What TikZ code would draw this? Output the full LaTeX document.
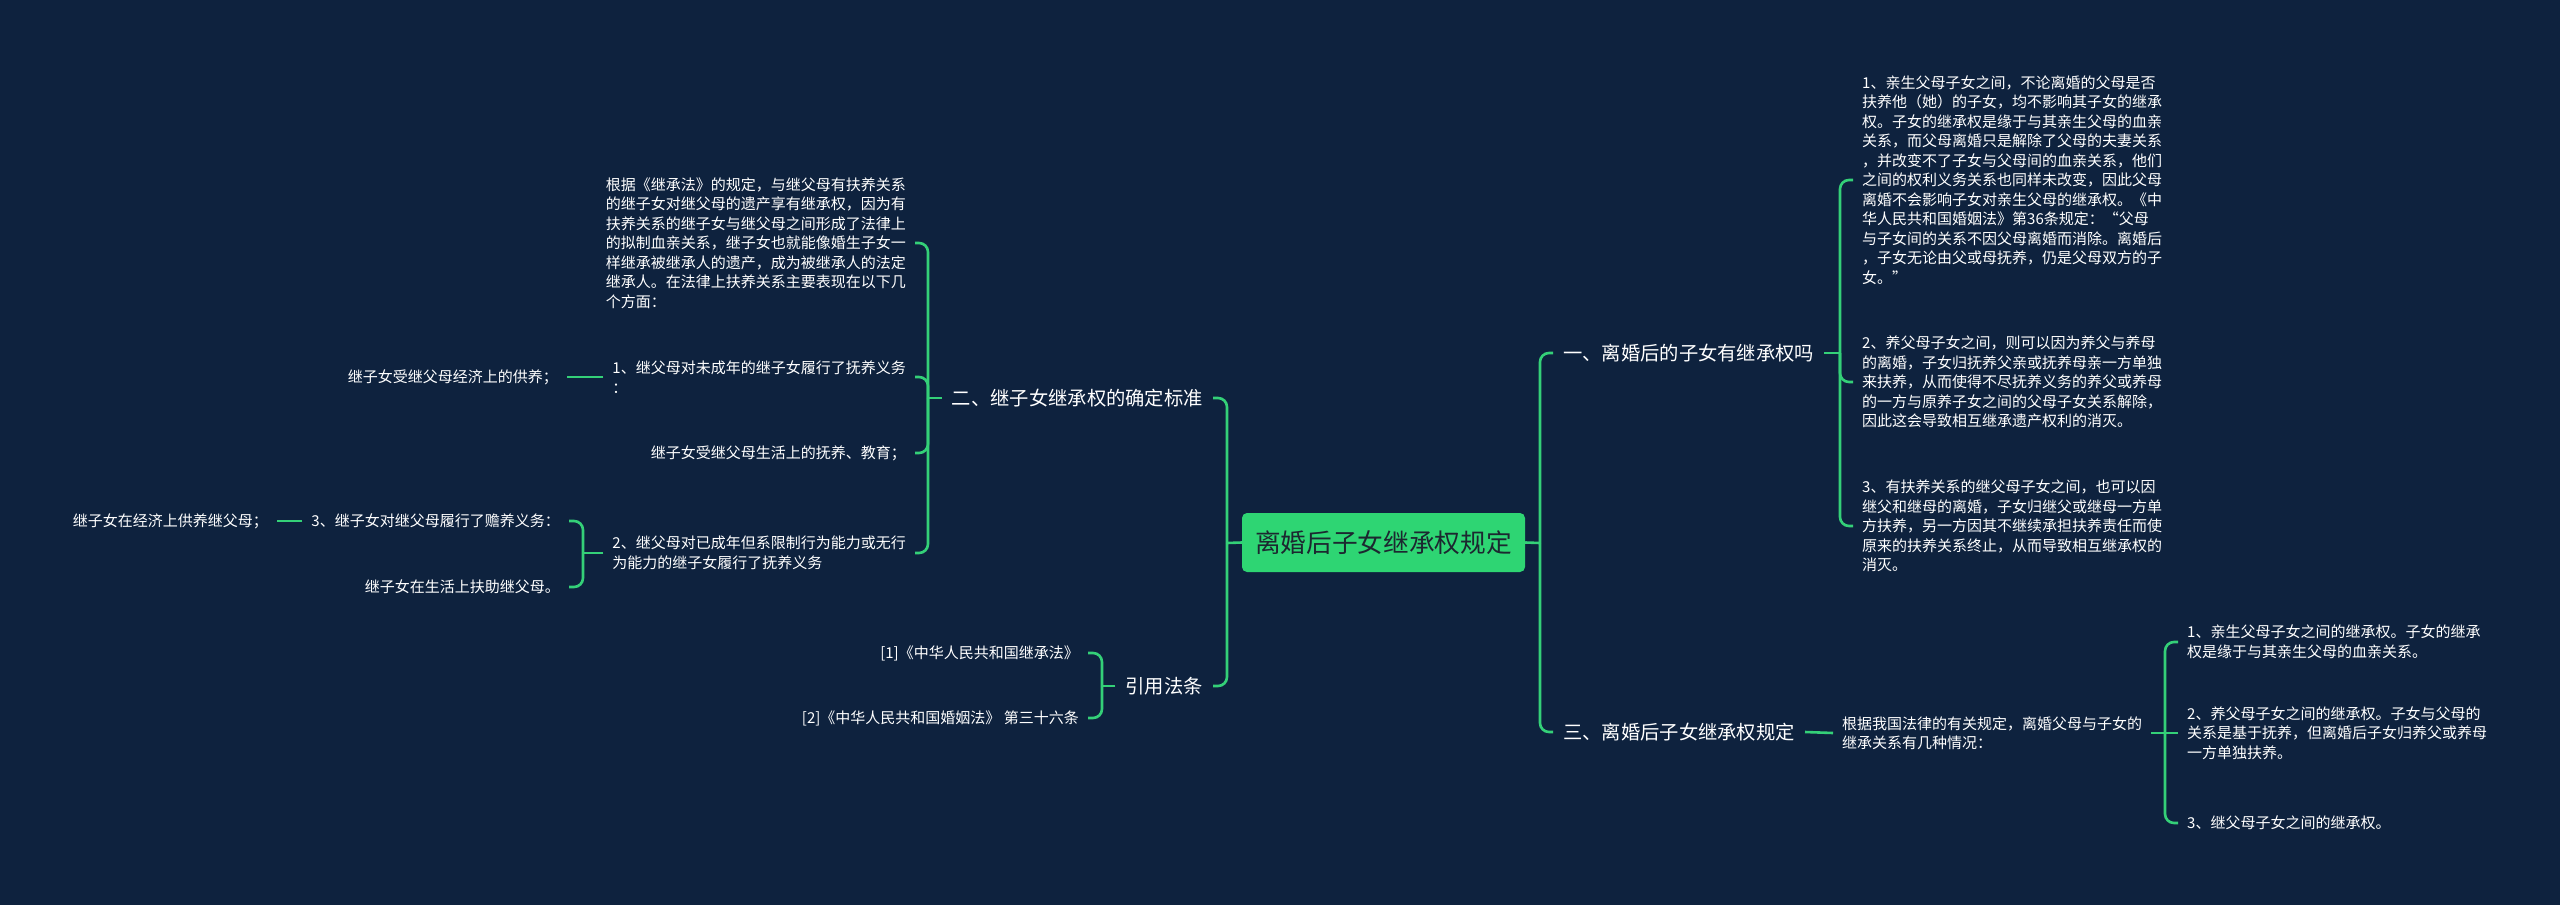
\documentclass[tikz,border=0pt]{standalone}
\usepackage{fontspec}
\setmainfont{Noto Sans CJK SC}
\definecolor{bg}{RGB}{14,34,62}
\definecolor{lnk}{RGB}{52,208,120}
\definecolor{rootfill}{RGB}{46,213,115}
\definecolor{roottext}{RGB}{28,40,48}
\tikzset{
  leaf/.style={text=white, font=\fontsize{15}{19.5}\selectfont, align=left, inner xsep=9pt, inner ysep=2pt},
  lone/.style={text=white, font=\fontsize{19.3}{24}\selectfont, inner xsep=10pt, inner ysep=3pt},
  rootbox/.style={fill=rootfill, rounded corners=5pt, text=roottext, font=\fontsize{25.7}{30}\selectfont, minimum width=283pt, minimum height=59pt, inner sep=0pt},
  link/.style={draw=lnk, line width=2.6pt, rounded corners=9pt},
}
\begin{document}
\begin{tikzpicture}[x=1pt,y=-1pt]
\fill[bg] (0,0) rectangle (2560,905);
\useasboundingbox (0,0) rectangle (2560,905);

% root
\node[rootbox] (root) at (1383.5,542.5) {离婚后子女继承权规定};

% right side
\coordinate (jR) at (1540,543);
\node[lone, anchor=west] (b1) at (1553,353) {一、离婚后的子女有继承权吗};
\node[lone, anchor=west] (b3) at (1553,732) {三、离婚后子女继承权规定};
\draw[link] (root.east) -- (jR);
\draw[link] (jR) |- (b1.west);
\draw[link] (jR) |- (b3.west);

\coordinate (j1) at (1840,353);
\node[leaf, anchor=west] (c11) at (1853,180) {1、亲生父母子女之间，不论离婚的父母是否\\扶养他（她）的子女，均不影响其子女的继承\\权。子女的继承权是缘于与其亲生父母的血亲\\关系，而父母离婚只是解除了父母的夫妻关系\\，并改变不了子女与父母间的血亲关系，他们\\之间的权利义务关系也同样未改变，因此父母\\离婚不会影响子女对亲生父母的继承权。《中\\华人民共和国婚姻法》第36条规定：“父母\\与子女间的关系不因父母离婚而消除。离婚后\\，子女无论由父或母抚养，仍是父母双方的子\\女。”};
\node[leaf, anchor=west] (c12) at (1853,382) {2、养父母子女之间，则可以因为养父与养母\\的离婚，子女归抚养父亲或抚养母亲一方单独\\来扶养，从而使得不尽抚养义务的养父或养母\\的一方与原养子女之间的父母子女关系解除，\\因此这会导致相互继承遗产权利的消灭。};
\node[leaf, anchor=west] (c13) at (1853,526) {3、有扶养关系的继父母子女之间，也可以因\\继父和继母的离婚，子女归继父或继母一方单\\方扶养，另一方因其不继续承担扶养责任而使\\原来的扶养关系终止，从而导致相互继承权的\\消灭。};
\draw[link] (b1.east) -- (j1);
\draw[link] (j1) |- (c11.west);
\draw[link] (j1) |- (c12.west);
\draw[link] (j1) |- (c13.west);

\node[leaf, anchor=west] (c3m) at (1833,733) {根据我国法律的有关规定，离婚父母与子女的\\继承关系有几种情况：};
\draw[link] (b3.east) -- (c3m.west);
\coordinate (j3) at (2165,733);
\node[leaf, anchor=west] (c31) at (2178,642) {1、亲生父母子女之间的继承权。子女的继承\\权是缘于与其亲生父母的血亲关系。};
\node[leaf, anchor=west] (c32) at (2178,733) {2、养父母子女之间的继承权。子女与父母的\\关系是基于抚养，但离婚后子女归养父或养母\\一方单独扶养。};
\node[leaf, anchor=west] (c33) at (2178,823) {3、继父母子女之间的继承权。};
\draw[link] (c3m.east) -- (j3);
\draw[link] (j3) |- (c31.west);
\draw[link] (j3) -- (c32.west);
\draw[link] (j3) |- (c33.west);

% left side
\coordinate (jL) at (1227,543);
\node[lone, anchor=east] (b2) at (1213,398) {二、继子女继承权的确定标准};
\node[lone, anchor=east] (b4) at (1213,686) {引用法条};
\draw[link] (root.west) -- (jL);
\draw[link] (jL) |- (b2.east);
\draw[link] (jL) |- (b4.east);

\coordinate (j2) at (928,398);
\node[leaf, anchor=east] (cA) at (915,243) {根据《继承法》的规定，与继父母有扶养关系\\的继子女对继父母的遗产享有继承权，因为有\\扶养关系的继子女与继父母之间形成了法律上\\的拟制血亲关系，继子女也就能像婚生子女一\\样继承被继承人的遗产，成为被继承人的法定\\继承人。在法律上扶养关系主要表现在以下几\\个方面：};
\node[leaf, anchor=east] (cB) at (915,377) {1、继父母对未成年的继子女履行了抚养义务\\：};
\node[leaf, anchor=east] (cC) at (915,453) {继子女受继父母生活上的抚养、教育；};
\node[leaf, anchor=east] (cD) at (915,553) {2、继父母对已成年但系限制行为能力或无行\\为能力的继子女履行了抚养义务};
\draw[link] (b2.west) -- (j2);
\draw[link] (j2) |- (cA.east);
\draw[link] (j2) |- (cB.east);
\draw[link] (j2) |- (cC.east);
\draw[link] (j2) |- (cD.east);

\node[leaf, anchor=east] (lB) at (567,377) {继子女受继父母经济上的供养；};
\draw[link] (cB.west) -- (lB.east);

\coordinate (j4) at (583,553);
\node[leaf, anchor=east] (lD1) at (569,521) {3、继子女对继父母履行了赡养义务：};
\node[leaf, anchor=east] (lD2) at (569,587) {继子女在生活上扶助继父母。};
\draw[link] (cD.west) -- (j4);
\draw[link] (j4) |- (lD1.east);
\draw[link] (j4) |- (lD2.east);
\node[leaf, anchor=east] (lD1a) at (277,521) {继子女在经济上供养继父母；};
\draw[link] (lD1.west) -- (lD1a.east);

\coordinate (j5) at (1102,686);
\node[leaf, anchor=east] (r1) at (1088,653) {[1]《中华人民共和国继承法》};
\node[leaf, anchor=east] (r2) at (1088,718) {[2]《中华人民共和国婚姻法》 第三十六条};
\draw[link] (b4.west) -- (j5);
\draw[link] (j5) |- (r1.east);
\draw[link] (j5) |- (r2.east);
\end{tikzpicture}
\end{document}
